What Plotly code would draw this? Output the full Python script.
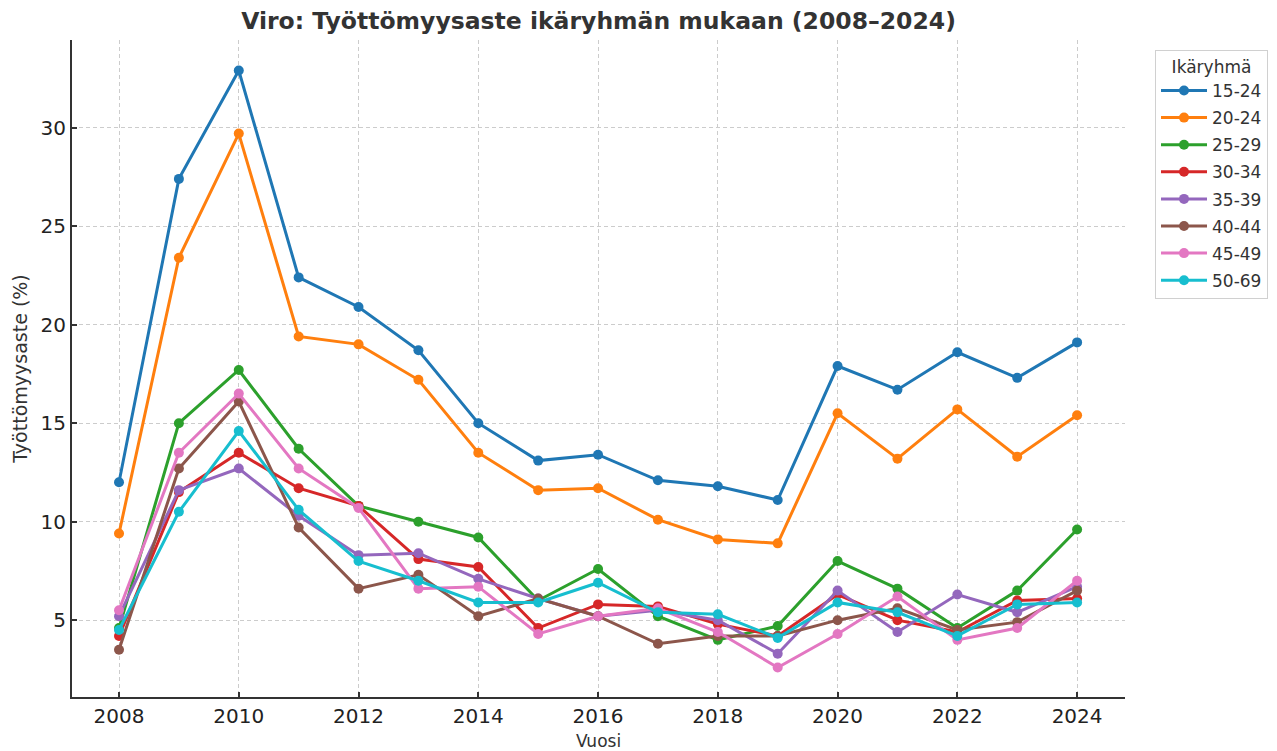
import plotly.graph_objects as go

years = list(range(2008, 2025))
groups = ["15-24", "20-24", "25-29", "30-34", "35-39", "40-44", "45-49", "50-69"]
colors = ["#1f77b4", "#ff7f0e", "#2ca02c", "#d62728", "#9467bd", "#8c564b", "#e377c2", "#17becf"]

v_15_24 = [12.0, 27.4, 32.9, 22.4, 20.9, 18.7, 15.0, 13.1, 13.4, 12.1, 11.8, 11.1, 17.9, 16.7, 18.6, 17.3, 19.1]
v_20_24 = [9.4, 23.4, 29.7, 19.4, 19.0, 17.2, 13.5, 11.6, 11.7, 10.1, 9.1, 8.9, 15.5, 13.2, 15.7, 13.3, 15.4]
v_25_29 = [4.6, 15.0, 17.7, 13.7, 10.8, 10.0, 9.2, 6.0, 7.6, 5.2, 4.0, 4.7, 8.0, 6.6, 4.6, 6.5, 9.6]
v_30_34 = [4.2, 11.5, 13.5, 11.7, 10.8, 8.1, 7.7, 4.6, 5.8, 5.7, 4.8, 4.2, 6.3, 5.0, 4.4, 6.0, 6.1]
v_35_39 = [5.2, 11.6, 12.7, 10.3, 8.3, 8.4, 7.1, 6.1, 5.2, 5.5, 5.0, 3.3, 6.5, 4.4, 6.3, 5.4, 6.7]
v_40_44 = [3.5, 12.7, 16.1, 9.7, 6.6, 7.3, 5.2, 6.1, 5.2, 3.8, 4.2, 4.2, 5.0, 5.6, 4.5, 4.9, 6.5]
v_45_49 = [5.5, 13.5, 16.5, 12.7, 10.7, 6.6, 6.7, 4.3, 5.2, 5.6, 4.4, 2.6, 4.3, 6.2, 4.0, 4.6, 7.0]
v_50_69 = [4.5, 10.5, 14.6, 10.6, 8.0, 7.0, 5.9, 5.9, 6.9, 5.4, 5.3, 4.1, 5.9, 5.4, 4.2, 5.8, 5.9]

series = [v_15_24, v_20_24, v_25_29, v_30_34, v_35_39, v_40_44, v_45_49, v_50_69]
x_ticks = list(range(2008, 2025, 2))
y_ticks = [5, 10, 15, 20, 25, 30]

FONT = "DejaVu Sans"
fig = go.Figure()
for name, vals, col in zip(groups, series, colors):
    fig.add_trace(go.Scatter(
        x=years, y=vals, name=name, mode="lines+markers", legendgroup=name,
        line=dict(color=col, width=3),
        marker=dict(color=col, size=10),
    ))

fig.update_layout(
    width=1277, height=751,
    paper_bgcolor="white", plot_bgcolor="white",
    margin=dict(l=72, r=152, t=40, b=54, autoexpand=False),
    font=dict(family=FONT, color="#333333"),
    title=dict(text="<b>Viro: Työttömyysaste ikäryhmän mukaan (2008–2024)</b>",
               x=0.4687, xanchor="center", y=0.973, yanchor="middle",
               font=dict(size=23.5, color="#333333", family=FONT)),
    legend=dict(
        title=dict(text="Ikäryhmä", font=dict(size=17, color="#333333"), side="top center"),
        x=1.0285, xanchor="left", y=0.985, yanchor="top",
        bordercolor="#d0d0d0", borderwidth=1, bgcolor="white",
        font=dict(size=17, color="#333333"),
        itemwidth=46, tracegroupgap=2,
    ),
    xaxis=dict(
        range=[2007.215, 2024.8], tickvals=x_ticks, automargin=False,
        showgrid=True, gridcolor="#cccccc", griddash="4px,3px", gridwidth=1,
        showline=True, linecolor="#333333", linewidth=2, mirror=False,
        ticks="inside", ticklen=5, tickwidth=1.5, tickcolor="#333333",
        tickfont=dict(size=20, color="#222222"), zeroline=False,
        title=dict(text="Vuosi", font=dict(size=17, color="#333333"), standoff=8),
    ),
    yaxis=dict(
        range=[1.1, 34.45], tickvals=y_ticks, automargin=False,
        showgrid=True, gridcolor="#cccccc", griddash="4px,3px", gridwidth=1,
        showline=True, linecolor="#333333", linewidth=2, mirror=False,
        ticks="inside", ticklen=5, tickwidth=1.5, tickcolor="#333333",
        tickfont=dict(size=20, color="#222222"), zeroline=False,
        title=dict(text="Työttömyysaste (%)", font=dict(size=19, color="#333333"), standoff=8),
    ),
)

fig.write_html("out.html", config={"displayModeBar": False},
               post_script="document.body.style.margin='0';")
